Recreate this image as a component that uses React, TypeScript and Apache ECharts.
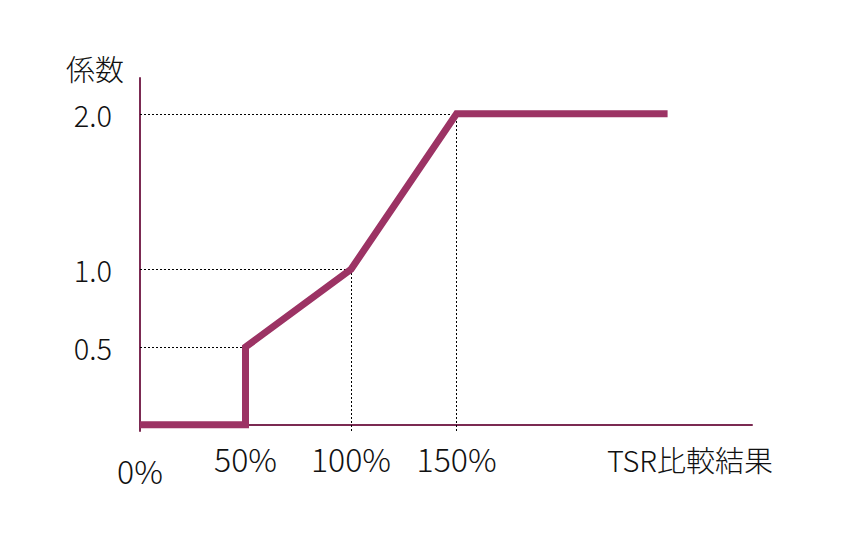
import React, { useEffect, useRef } from "react";
import * as echarts from "echarts";

// TSR comparison result (%) vs coefficient
const tsrResult = [0, 50, 50, 100, 150, 250];
const coefficient = [0, 0, 0.5, 1.0, 2.0, 2.0];
const xTickValues = [0, 50, 100, 150];
const yTickValues = [0.5, 1.0, 2.0];
// guide lines: [x, y] corner points
const guidePoints: [number, number][] = [
  [50, 0.5],
  [100, 1.0],
  [150, 2.0],
];
const verticalGuides = [100, 150];

const FONT = '"Noto Sans CJK JP", "Noto Sans", sans-serif';
const AXIS_COLOR = "#7b2a52";
const LINE_COLOR = "#9c3364";
const Y_MIN = -0.04;

export default function App() {
  const ref = useRef<HTMLDivElement>(null);
  useEffect(() => {
    if (!ref.current) return;
    const chart = echarts.init(ref.current, undefined, { renderer: "svg" });
    const markData: any[] = [];
    guidePoints.forEach(([x, y]) => {
      markData.push([{ coord: [0, y] }, { coord: [x, y] }]);
    });
    verticalGuides.forEach((x) => {
      const p = guidePoints.find((g) => g[0] === x)!;
      markData.push([{ coord: [x, Y_MIN] }, { coord: [x, p[1]] }]);
    });
    const txt = { fontFamily: FONT, fontWeight: 300, color: "#111" };
    chart.setOption({
      animation: false,
      backgroundColor: "#ffffff",
      grid: { left: 132, right: 111, top: 70, bottom: 118, containLabel: false },
      xAxis: {
        type: "value",
        min: 0,
        max: 290,
        name: "TSR比較結果",
        nameLocation: "end",
        nameGap: -62,
        nameTextStyle: {
          ...txt,
          fontSize: 29,
          align: "center",
          verticalAlign: "top",
          padding: [20, 0, 0, 0],
        },
        axisLine: { show: true, lineStyle: { color: AXIS_COLOR, width: 2 } },
        axisTick: { show: false },
        splitLine: { show: false },
        axisLabel: {
          customValues: xTickValues,
          formatter: (v: number) => (v === 0 ? `{low|${v}%}` : `${v}%`),
          ...txt,
          fontSize: 32,
          margin: 11,
          rich: {
            low: { ...txt, fontSize: 32, padding: [12, 0, 0, 0] },
          },
        },
      },
      yAxis: {
        type: "value",
        min: Y_MIN,
        max: 2.23,
        name: "係数",
        nameLocation: "end",
        nameGap: 10,
        nameTextStyle: {
          ...txt,
          fontSize: 29,
          align: "right",
          verticalAlign: "middle",
          padding: [0, 16, 0, 0],
        },
        axisLine: { show: true, lineStyle: { color: AXIS_COLOR, width: 2 } },
        axisTick: { show: false },
        splitLine: { show: false },
        axisLabel: {
          customValues: yTickValues,
          formatter: (v: number) => v.toFixed(1),
          ...txt,
          fontSize: 29,
          margin: 28,
        },
      },
      series: [
        {
          type: "line",
          data: tsrResult.map((x, i) => [x, coefficient[i]]),
          showSymbol: false,
          symbol: "none",
          lineStyle: { color: LINE_COLOR, width: 7, join: "miter", cap: "butt" },
          z: 3,
          markLine: {
            silent: true,
            symbol: "none",
            label: { show: false },
            lineStyle: { color: "#000", width: 1, type: [2, 2] },
            z: 1,
            data: markData,
          },
        },
      ],
    });
    return () => chart.dispose();
  }, []);
  return <div ref={ref} style={{ width: 855, height: 541 }} />;
}
